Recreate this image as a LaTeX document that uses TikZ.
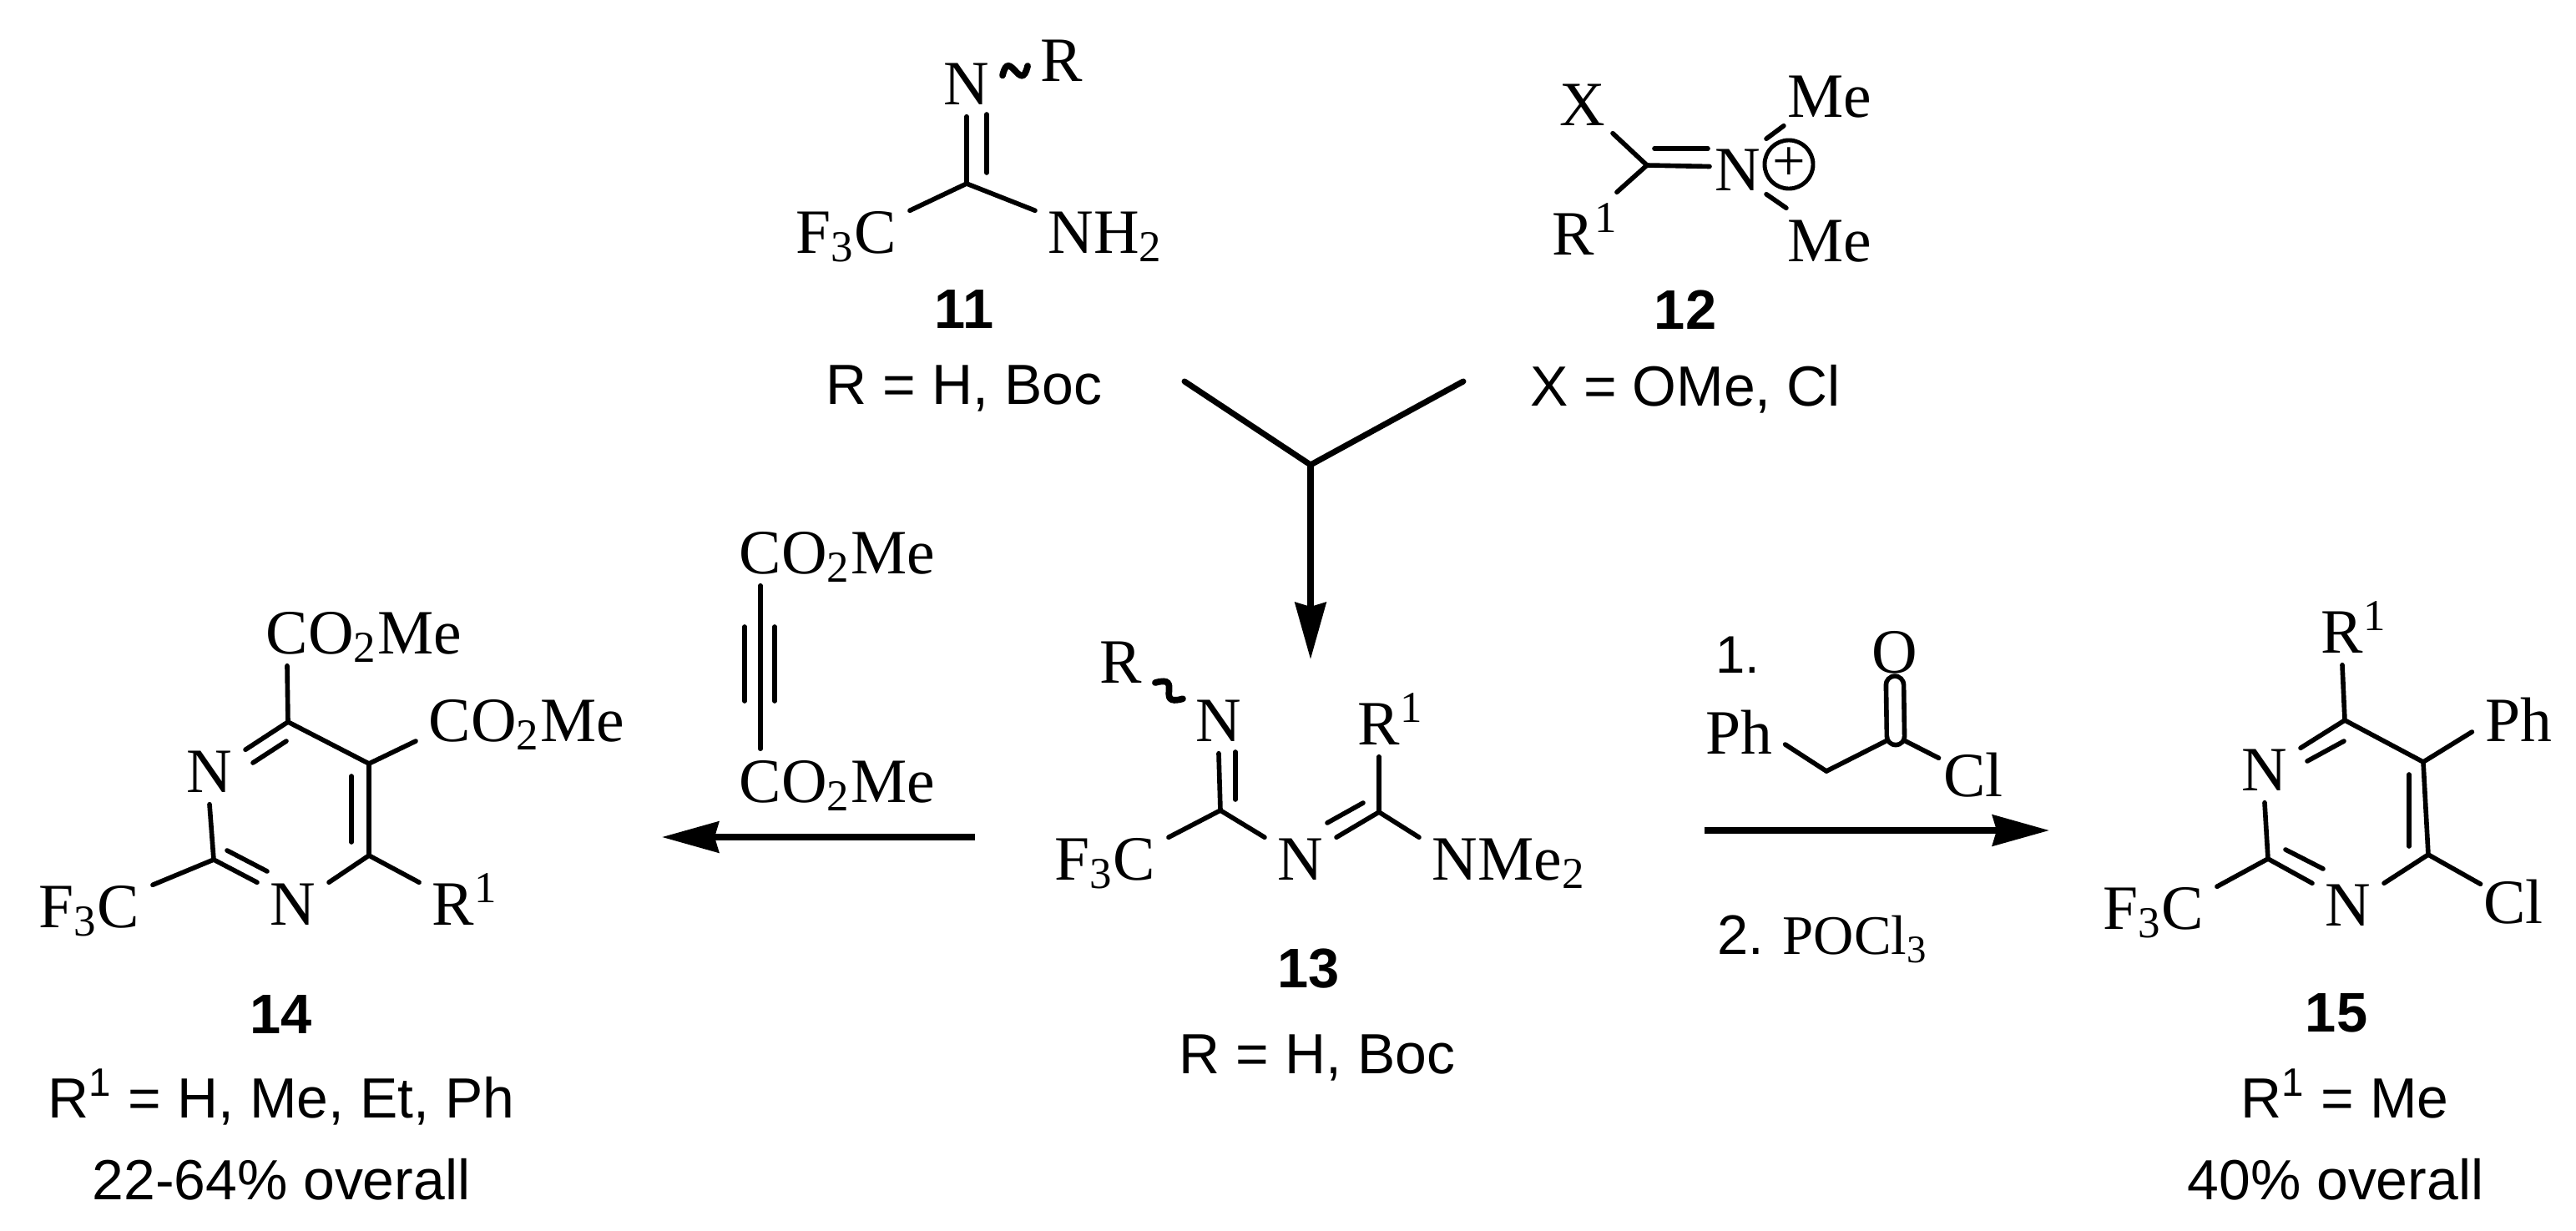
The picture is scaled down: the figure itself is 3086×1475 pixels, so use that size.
\documentclass[tikz,border=0pt]{standalone}
\usepackage{fontspec}
\setmainfont{Liberation Serif}
\setsansfont{Liberation Sans}
\usepackage{tikz}
\usetikzlibrary{positioning}
\usetikzlibrary{arrows.meta}
\newcommand{\cfthree}{\llap{F\textsubscript{3}}C}
\newcommand{\cotwome}{C\rlap{O\textsubscript{2}Me}}
\newcommand{\rone}{R\rlap{\textsuperscript{1}}}
\tikzset{atom/.style={font=\fontsize{21.5}{24}\selectfont,anchor=base,inner xsep=.15cm,inner ysep=0pt,text height=.5cm,text depth=.14cm},
	numlabel/.style={font=\sffamily\bfseries\fontsize{19}{22}\selectfont,anchor=base,inner sep=0pt,text height=.48cm,text depth=0pt},
	caption/.style={font=\sffamily\fontsize{19.3}{22}\selectfont,inner sep=0pt,text height=.5cm,text depth=.14cm},
	bond/.style={line width=1.6pt,line cap=round},
	wavy/.style={line width=2.2pt,line cap=round},
	reaction/.style={line width=2pt,-{Stealth[length=.68cm,width=.37cm,inset=.05cm]}},}
\begin{document}
\begin{tikzpicture}[x=0.01cm,y=-0.01cm]
	\useasboundingbox (0,0) rectangle (3086,1475);

	% reagent 11
	\node[atom] (n11) at (1158,125) {N};
	\node[atom] (r11) at (1272,97) {R};
	\node[atom] (f11) at (1049,303) {\cfthree};
	\node[atom] (nh11) at (1283,303) {N\rlap{H\textsubscript{2}}};
	\coordinate (c11) at (1158,220);
	\coordinate (i11a) at (1182,137);
	\coordinate (i11b) at (1182,207);
	\node[numlabel] (num11) at (1155,393) {11};
	\node[caption] (cap11) [below = .40cm of num11] {R = H, Boc};

	% reagent 12
	\node[atom,inner xsep=.08cm,text depth=.09cm] (x12) at (1896,150) {X};
	\node[atom,inner xsep=.26cm,text height=.74cm] (r12) at (1885,305) {\rone};
	\node[atom,inner xsep=.06cm,text height=.61cm,text depth=.04cm] (n12) at (2082,228) {N};
	\node[circle,draw,line width=1.4pt,minimum size=.58cm,inner sep=0pt,font=\fontsize{20}{22}\selectfont] (plus12) at (2143,197) {+};
	\node[atom,inner xsep=.04cm,text depth=.10cm] (me12a) at (2192,140) {Me};
	\node[atom,inner xsep=.01cm,text height=.63cm] (me12b) at (2192,313) {Me};
	\coordinate (c12) at (1973,198);
	\coordinate (i12a) at (1982,178);
	\coordinate (i12b) at (2046,178);
	\node[numlabel] (num12) at (2019,394) {12};
	\node[caption] (cap12) [below = .41cm of num12] {X = OMe, Cl};

	% intermediate 13
	\node[atom] (r13) at (1343,818) {R};
	\node[atom] (n13a) at (1460,888) {N};
	\node[atom] (n13b) at (1558,1054) {N};
	\node[atom] (r13b) at (1652,892) {\rone};
	\node[atom] (f13) at (1359,1054) {\cfthree};
	\node[atom] (nme13) at (1743,1054) {N\rlap{Me\textsubscript{2}}};
	\coordinate (c13a) at (1462,971);
	\coordinate (c13b) at (1652,973);
	\coordinate (i13a) at (1480,901);
	\coordinate (i13b) at (1480,958);
	\coordinate (i13c) at (1590,986);
	\coordinate (i13d) at (1633,962);
	\node[numlabel] (num13) at (1568,1183) {13};
	\node[caption] (cap13) [below = .52cm of num13, xshift=.1cm] {R = H, Boc};

	% pyrimidine 14
	\node[atom] (co14a) at (344,783) {\cotwome};
	\node[atom] (co14b) at (539,888) {\cotwome};
	\node[atom] (n14a) at (251,949) {N};
	\node[atom] (n14b) at (351,1108) {N};
	\node[atom] (f14) at (142,1111) {\cfthree};
	\node[atom] (r14) at (543,1108) {\rone};
	\coordinate (a14) at (345,865);
	\coordinate (b14) at (442,915);
	\coordinate (c14) at (442,1025);
	\coordinate (d14) at (256,1030);
	\coordinate (i14a) at (303,914);
	\coordinate (i14b) at (343,888);
	\coordinate (i14c) at (272,1019);
	\coordinate (i14d) at (320,1044);
	\coordinate (i14e) at (421,930);
	\coordinate (i14f) at (421,1009);
	\node[numlabel] (num14) at (337,1238) {14};
	\node[caption] (cap14) [below = .50cm of num14] {R\textsuperscript{1} = H, Me, Et, Ph};
	\node[caption] (yield14) [below = .33cm of cap14] {22-64\% overall};

	% alkyne over the left arrow
	\node[atom] (co1) at (911,687) {\cotwome};
	\node[atom,text height=.63cm] (co2) at (911,961) {\cotwome};
	\coordinate (i1a) at (892,751);
	\coordinate (i1b) at (892,840);
	\coordinate (i1c) at (928,751);
	\coordinate (i1d) at (928,840);

	% acid chloride over the right arrow
	\node[atom,font=\sffamily\fontsize{18}{20}\selectfont] (one) at (2082,806) {1.};
	\node[atom,text height=.36cm] (ph16) at (2083,903) {Ph};
	\node[atom] (o16) at (2270,806) {O};
	\node[atom,inner xsep=.05cm,text height=.45cm] (cl16) at (2364,954) {Cl};
	\coordinate (ch16) at (2188,924);
	\coordinate (co16) at (2271,882);
	\node[atom,anchor=base west,font=\fontsize{19}{22}\selectfont] (two) at (2042,1143) {{\sffamily 2.} POCl\textsubscript{3}};

	% pyrimidine 15
	\node[atom] (r15) at (2806,782) {\rone};
	\node[atom,text height=.36cm] (ph15) at (3017,888) {Ph};
	\node[atom] (n15a) at (2713,947) {N};
	\node[atom] (n15b) at (2813,1109) {N};
	\node[atom] (f15) at (2615,1113) {\cfthree};
	\node[atom,inner xsep=.03cm,text height=.46cm] (cl15) at (3011,1106) {Cl};
	\coordinate (a15) at (2809,863);
	\coordinate (b15) at (2903,913);
	\coordinate (c15) at (2909,1024);
	\coordinate (d15) at (2717,1029);
	\coordinate (i15a) at (2764,912);
	\coordinate (i15b) at (2808,888);
	\coordinate (i15c) at (2738,1018);
	\coordinate (i15d) at (2783,1041);
	\coordinate (i15e) at (2886,928);
	\coordinate (i15f) at (2886,1014);
	\node[numlabel] (num15) at (2799,1236) {15};
	\node[caption] (cap15) [below = .52cm of num15, xshift=.1cm] {R\textsuperscript{1} = Me};
	\node[caption] (yield15) [below = .33cm of cap15, xshift=-.11cm] {40\% overall};

	% free ends of the arrows
	\coordinate (yl) at (1419,457);
	\coordinate (yr) at (1753,457);
	\coordinate (yj) at (1570,557);
	\coordinate (tip13) at (1570,790);
	\coordinate (la) at (1168,1003);
	\coordinate (lb) at (793,1003);
	\coordinate (ra) at (2042,995);
	\coordinate (rb) at (2455,995);

	\path[draw,bond]
	(c11) edge (n11.south)
	(i11a) edge (i11b)
	(c11) edge (f11.north east)
	(c11) edge (nh11.north west)
	(c12) edge (x12.south east)
	(c12) edge (r12.north east)
	(c12) edge (n12.west)
	(i12a) edge (i12b)
	(n12.north east) edge (me12a.south west)
	(n12.south east) edge (me12b.north west)
	(c13a) edge (n13a.south)
	(i13a) edge (i13b)
	(c13a) edge (f13.north east)
	(c13a) edge (n13b.north west)
	(n13b.north east) edge (c13b)
	(i13c) edge (i13d)
	(c13b) edge (r13b.south)
	(c13b) edge (nme13.north west)
	(a14) edge (co14a.south)
	(a14) edge (b14)
	(b14) edge (co14b.base west)
	(b14) edge (c14)
	(i14e) edge (i14f)
	(c14) edge (r14.north west)
	(c14) edge (n14b.north east)
	(n14b.north west) edge (d14)
	(i14c) edge (i14d)
	(d14) edge (f14.north east)
	(d14) edge (n14a.south)
	(n14a.north east) edge (a14)
	(i14a) edge (i14b)
	(co1.south) edge (co2.north)
	(i1a) edge (i1b)
	(i1c) edge (i1d)
	(ph16.east) edge (ch16)
	(ch16) edge (co16)
	(co16) edge (cl16.north west)
	(a15) edge (r15.south)
	(a15) edge (b15)
	(b15) edge (ph15.west)
	(b15) edge (c15)
	(i15e) edge (i15f)
	(c15) edge (cl15.north west)
	(c15) edge (n15b.north east)
	(n15b.north west) edge (d15)
	(i15c) edge (i15d)
	(d15) edge (f15.north east)
	(d15) edge (n15a.south)
	(n15a.north east) edge (a15)
	(i15a) edge (i15b);

	\draw[bond,double,double distance=.155cm] (co16) -- (o16.south);
	\draw[wavy] (n11.21) .. controls +(8,-35) and +(-8,35) .. (r11.west);
	\draw[wavy] (r13.base east) .. controls +(35,-10) and +(-35,10) .. (n13a.north west);

	\draw[line width=2pt,line cap=round] (yl) -- (yj) -- (yr);
	\draw[reaction] (yj) -- (tip13);
	\draw[reaction] (la) -- (lb);
	\draw[reaction] (ra) -- (rb);
\end{tikzpicture}
\end{document}
